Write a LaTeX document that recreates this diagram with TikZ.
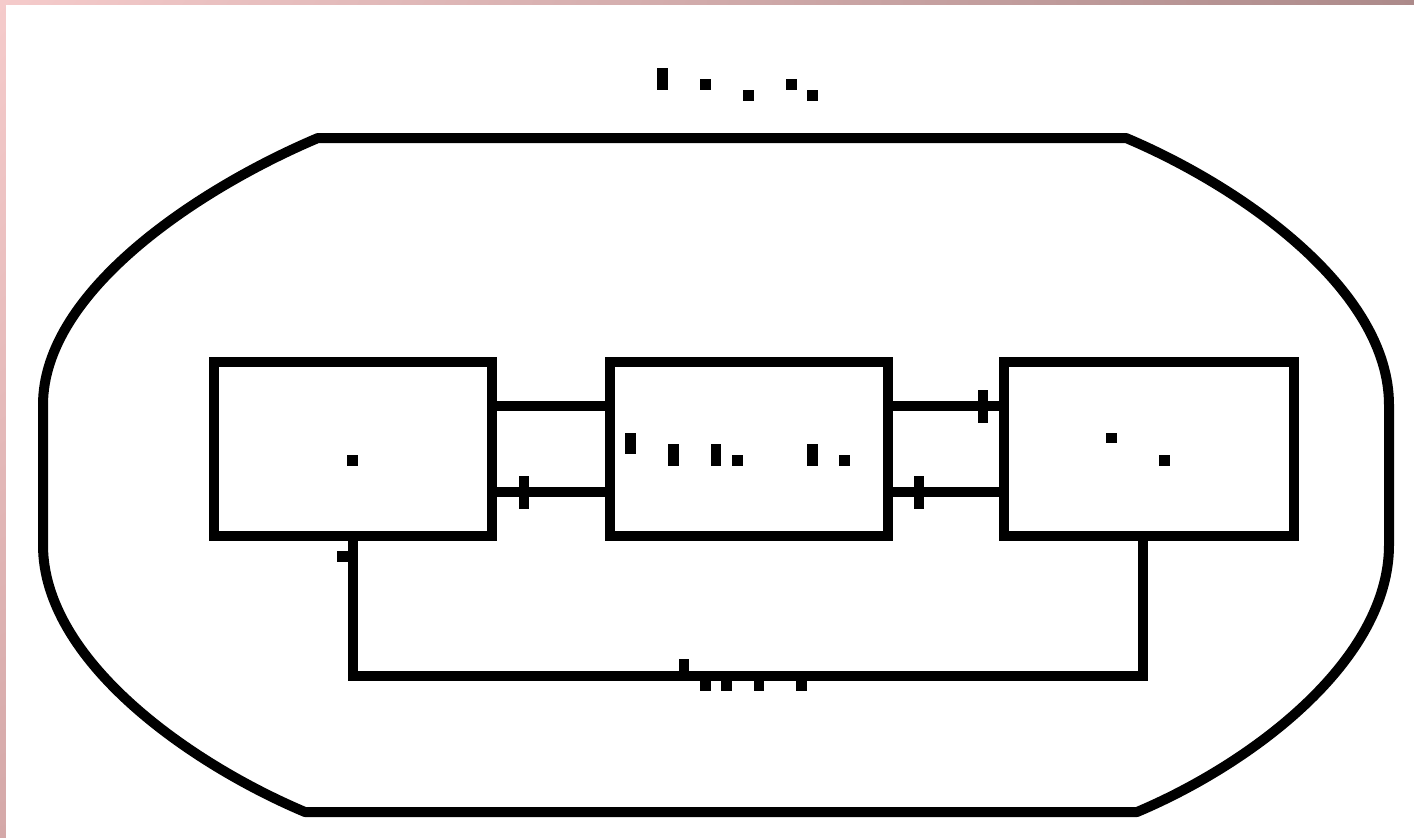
\documentclass[tikz,border=0pt]{standalone}
\usetikzlibrary{shadings}
\definecolor{edgeA}{RGB}{245,203,203}
\definecolor{edgeB}{RGB}{172,138,138}
\definecolor{edgeC}{RGB}{212,168,168}
\definecolor{edgeD}{RGB}{190,150,150}
\begin{document}
\begin{tikzpicture}[
        x=1pt, y=-1pt,
        block/.style={draw, line width=10pt, minimum width=278pt, minimum height=174pt, inner sep=0pt},
        wire/.style={line width=10pt, line join=miter},
        rim/.style={line width=10pt, line join=round},
        tick/.style={line width=10pt},
        blot/.style={fill=black}
    ]

    % Page, with the tinted edge on top and left
    \useasboundingbox (0,0) rectangle (1414,838);
    \shade[upper left=edgeA, upper right=edgeB, lower left=edgeC, lower right=edgeD]
        (0,0) rectangle (1414,838);
    \fill[white] (6,5) rectangle (1414,838);

    % Outer boundary (flat top and bottom, bulging sides)
    \begin{scope}[shift={(716,475)}]
        \draw[rim] (-398,-337) -- (410,-337)
            .. controls (526,-288) and (673,-185) .. (673,-70)
            -- (673,70)
            .. controls (673,185) and (537,288) .. (421,337)
            -- (-411,337)
            .. controls (-527,288) and (-673,185) .. (-673,70)
            -- (-673,-70)
            .. controls (-673,-185) and (-514,-288) .. (-398,-337)
            -- cycle;
    \end{scope}

    % Blocks
    \node[block] (lbox) at (353,449) {};
    \node[block] (mbox) at (749,449) {};
    \node[block, minimum width=290pt] (rbox) at (1149,449) {};

    % Links between the blocks
    \draw[wire] ([yshift=43pt]lbox.east) -- ([yshift=43pt]mbox.west);
    \draw[wire] ([yshift=-43pt]lbox.east) -- ([yshift=-43pt]mbox.west);
    \draw[wire] ([yshift=43pt]mbox.east) -- ([yshift=43pt]rbox.west);
    \draw[wire] ([yshift=-43pt]mbox.east) -- ([yshift=-43pt]rbox.west);

    % Feedback loop under the blocks
    \draw[wire] (lbox.south) -- (lbox.south |- 0,675.5) -| ([xshift=-6pt]rbox.south);

    % Ticks on the links
    \draw[tick] (524,476) -- (524,509);
    \draw[tick] (919,476) -- (919,509);
    \draw[tick] (983,390) -- (983,423);

    % Title marks
    \fill[blot] (657,68) rectangle (668,90);
    \fill[blot] (700,79) rectangle (711,90);
    \fill[blot] (743,90) rectangle (754,101);
    \fill[blot] (786,79) rectangle (797,90);
    \fill[blot] (807,90) rectangle (818,101);

    % Marks inside the blocks
    \fill[blot] (347,455) rectangle (358,466);
    \fill[blot] (625,433) rectangle (636,454);
    \fill[blot] (668,444) rectangle (679,466);
    \fill[blot] (711,444) rectangle (721,466);
    \fill[blot] (732,455) rectangle (743,466);
    \fill[blot] (807,444) rectangle (818,466);
    \fill[blot] (839,455) rectangle (850,466);
    \fill[blot] (1106,433) rectangle (1117,443);
    \fill[blot] (1159,455) rectangle (1170,466);

    % Marks on the loop
    \fill[blot] (337,551) rectangle (348,562);
    \fill[blot] (679,659) rectangle (689,671);
    \fill[blot] (700,680) rectangle (711,691);
    \fill[blot] (721,680) rectangle (732,691);
    \fill[blot] (754,680) rectangle (764,691);
    \fill[blot] (796,680) rectangle (807,691);

\end{tikzpicture}
\end{document}
